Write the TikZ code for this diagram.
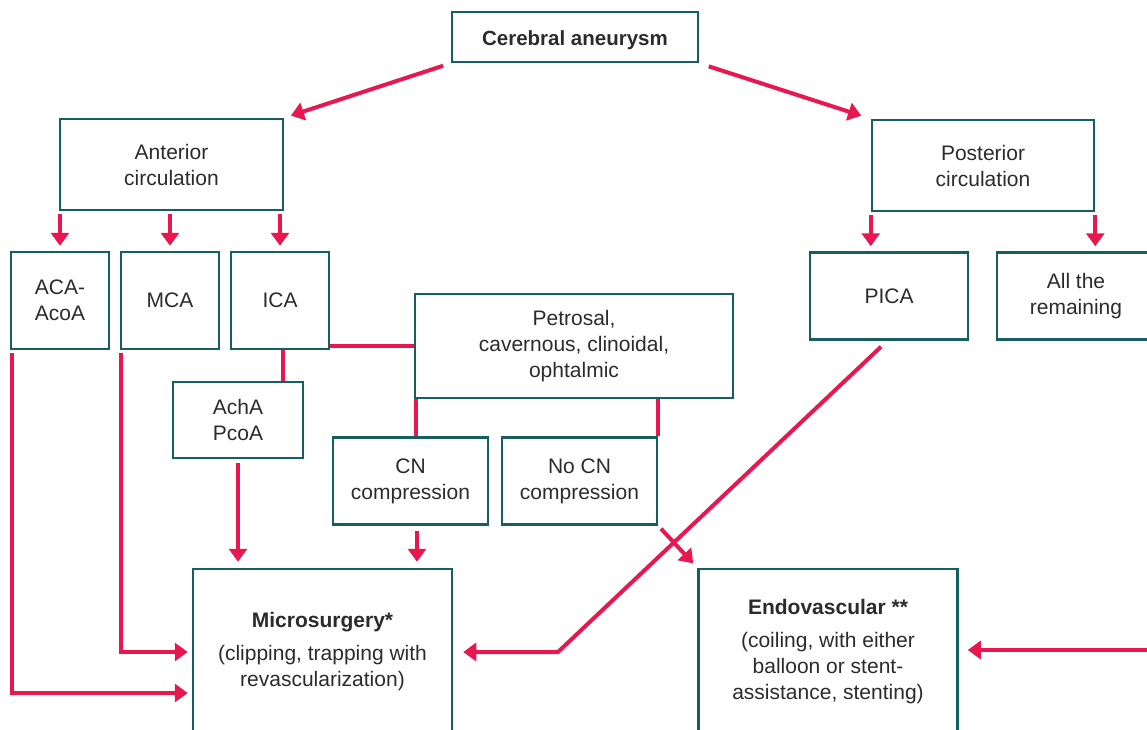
\documentclass[tikz,border=0pt]{standalone}
\usepackage{fontspec}
\setmainfont{Liberation Sans}
\usetikzlibrary{arrows.meta}

\definecolor{tealline}{HTML}{175E60}
\definecolor{pinkline}{HTML}{E8174F}
\definecolor{inktext}{HTML}{2B2B2B}

\begin{document}
\begin{tikzpicture}[x=1pt, y=-1pt,
                box/.style={draw=tealline, line width=2.5pt, rectangle, inner sep=0pt, align=center, text=inktext, font=\fontsize{21}{26}\selectfont},
                link/.style={draw=pinkline, line width=4pt},
                arr/.style={link, -{Triangle[width=18pt,length=13pt]}}]

                \useasboundingbox (0,0) rectangle (1147,729);

                % top level
                \node[box, minimum width=246pt, minimum height=50pt, font=\fontsize{20.5}{26}\selectfont\bfseries] (aneurysm) at (575,37) {\raisebox{-3pt}[\height][\depth]{Cerebral aneurysm}};
                \node[box, minimum width=223pt, minimum height=91pt] (anterior) at (171.5,164.5) {Anterior\\circulation};
                \node[box, minimum width=222pt, minimum height=91pt] (posterior) at (983,165.5) {Posterior\\circulation};

                % vessels
                \node[box, minimum width=98pt, minimum height=97pt] (aca) at (60,300.5) {ACA-\\AcoA};
                \node[box, minimum width=98pt, minimum height=97pt] (mca) at (170,300.5) {MCA};
                \node[box, minimum width=98pt, minimum height=97pt] (ica) at (280,300.5) {ICA};
                \node[box, minimum width=158pt, minimum height=87pt] (pica) at (889,296) {PICA};
                \node[box, minimum width=158pt, minimum height=87pt] (remaining) at (1076,296) {All the\\remaining};

                % ICA segments
                \node[box, minimum width=318pt, minimum height=104pt] (petrosal) at (574,346) {Petrosal,\\cavernous, clinoidal,\\ophtalmic};
                \node[box, minimum width=130pt, minimum height=76pt] (acha) at (238,420) {AchA\\PcoA};
                \node[box, minimum width=155pt, minimum height=87pt] (cn) at (410.5,481) {CN\\compression};
                \node[box, minimum width=155pt, minimum height=87pt] (nocn) at (579.5,481) {No CN\\compression};

                % treatment
                \node[box, minimum width=259pt, minimum height=166pt] (micro) at (322.5,652) {\textbf{Microsurgery*}\\[7pt](clipping, trapping with\\revascularization)};
                \node[box, minimum width=259pt, minimum height=166pt] (endo) at (828,652) {\textbf{Endovascular **}\\[7pt](coiling, with either\\balloon or stent-\\assistance, stenting)};

                \coordinate (picabend) at (558,652);
                \coordinate (offright) at (1160,650);

                \draw[arr, shorten <=8pt, shorten >=7pt] (aneurysm.south west) -- (anterior.north east);
                \draw[arr, shorten <=10pt, shorten >=10pt] (aneurysm.south east) -- (posterior.north west);

                \foreach \b in {aca, mca, ica}
                    \draw[arr, shorten <=3pt, shorten >=5pt] (anterior.south -| \b) -- (\b.north);
                \draw[arr, shorten <=3pt, shorten >=5pt] (posterior.south west) -- (posterior.south west |- pica.north);
                \draw[arr, shorten <=3pt, shorten >=5pt] (posterior.south east) -- (posterior.south east |- remaining.north);

                \draw[link] (petrosal.west -| ica.east) -- (petrosal.west);
                \draw[link] ([xshift=3pt]ica.south) -- ([xshift=3pt]ica.south |- acha.north);
                \draw[link] ([xshift=2pt]petrosal.south west) -- ([xshift=2pt]petrosal.south west |- cn.north);
                \draw[link] (nocn.north east |- petrosal.south) -- (nocn.north east);

                \draw[arr, shorten <=4pt, shorten >=6pt] (acha.south) -- (acha.south |- micro.north);
                \draw[arr, shorten <=5pt, shorten >=6pt] ([xshift=6.5pt]cn.south) -- ([xshift=6.5pt]cn.south |- micro.north);
                \draw[arr, shorten <=4pt, shorten >=6pt] (nocn.south east) -- (endo.north west);

                \draw[arr, shorten >=10pt] ([shift={(-8,6)}]pica.south) -- (picabend) -- (micro.east);
                \draw[arr, shorten >=9pt] (offright) -- (offright -| endo.east);

                \draw[arr, shorten <=3pt, shorten >=4pt] ([xshift=2pt]aca.south west) |- ([yshift=-41pt]micro.west);
                \draw[arr, shorten <=3pt, shorten >=4pt] ([xshift=1pt]mca.south west) |- (micro.west);
            \end{tikzpicture}
\end{document}
